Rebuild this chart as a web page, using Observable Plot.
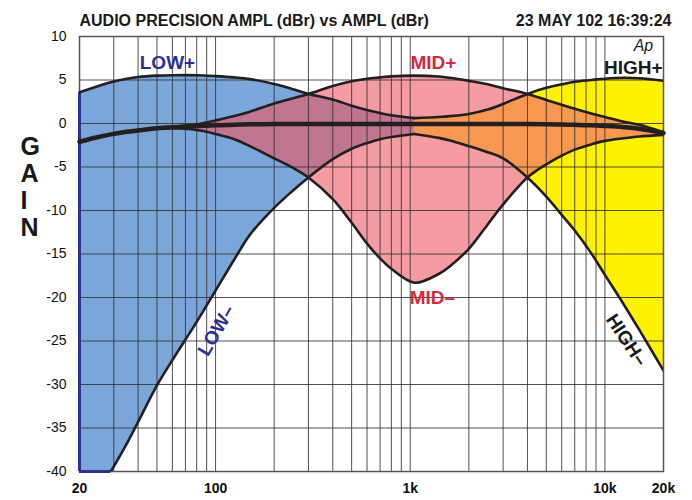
<!DOCTYPE html>
<html><head><meta charset="utf-8">
<script src="https://cdn.jsdelivr.net/npm/d3@7"></script>
<script src="https://cdn.jsdelivr.net/npm/@observablehq/plot@0.6"></script>
<style>body{margin:0;background:#fff}</style>
</head><body><div id="chart"></div>
<script>
// frequency (Hz) sample points shared by all curves
const freq = [20, 25, 29, 35, 40, 50, 60, 80, 100, 125, 150, 200, 250, 300, 400, 500, 600, 700, 800, 1050,
  1400, 1600, 2000, 2500, 3000, 4000, 5000, 6000, 7000, 8500, 10000, 12500, 15000, 20000];
// gain (dB) per curve
const flat = [-2.1, -1.55, -1.25, -0.95, -0.8, -0.55, -0.42, -0.3, -0.2, -0.15, -0.1, -0.07, -0.05, -0.05, -0.05, -0.05, -0.05, -0.05, -0.05, -0.05,
  -0.05, -0.05, -0.05, -0.05, -0.05, -0.07, -0.1, -0.12, -0.15, -0.2, -0.28, -0.42, -0.6, -1.1];
const midPlus = [-2.1, -1.55, -1.25, -0.95, -0.8, -0.55, -0.38, -0.1, 0.35, 0.85, 1.35, 2.3, 2.9, 3.4, 4.3, 4.85, 5.15, 5.3, 5.42, 5.5,
  5.4, 5.25, 4.9, 4.5, 4.05, 3.4, 2.7, 2.15, 1.7, 1.15, 0.75, 0.2, -0.15, -1.0];
const midMinus = [-2.1, -1.55, -1.25, -0.95, -0.8, -0.6, -0.55, -0.75, -1.2, -1.8, -2.6, -4.0, -5.1, -6.2, -8.7, -11.4, -13.8, -15.5, -16.7, -18.3,
  -17.3, -16.4, -14.4, -11.6, -9.3, -6.2, -4.7, -3.7, -3.0, -2.4, -2.0, -1.7, -1.5, -1.3];
const lowPlus = [3.6, 4.3, 4.75, 5.15, 5.35, 5.5, 5.55, 5.55, 5.45, 5.3, 5.1, 4.55, 3.95, 3.4, 2.75, 2.05, 1.55, 1.2, 0.95, 0.62,
  null, null, null, null, null, null, null, null, null, null, null, null, null, null];
const lowMinus = [-40, -40, -40, -36.8, -34.3, -30.1, -27.2, -22.8, -19.2, -15.6, -12.8, -9.7, -7.7, -6.2, -4.1, -2.9, -2.25, -1.8, -1.55, -1.2,
  null, null, null, null, null, null, null, null, null, null, null, null, null, null];
const highPlus = [null, null, null, null, null, null, null, null, null, null, null, null, null, null, null, null, null, null, null, 0.62,
  0.75, 0.85, 1.1, 1.6, 2.25, 3.4, 4.1, 4.5, 4.8, 5.0, 5.15, 5.25, 5.2, 4.9];
const highMinus = [null, null, null, null, null, null, null, null, null, null, null, null, null, null, null, null, null, null, null, -1.2,
  -1.65, -1.95, -2.6, -3.3, -4.0, -6.2, -8.4, -10.5, -12.3, -14.9, -17.4, -20.8, -23.7, -28.4];

const xTicks = [20, 100, 1000, 10000, 20000];
const xTickLabels = ["20", "100", "1k", "10k", "20k"];
const yTicks = [-40, -35, -30, -25, -20, -15, -10, -5, 0, 5, 10];
const gridFreq = [30, 40, 50, 60, 70, 80, 90, 100, 200, 300, 400, 500, 600, 700, 800, 900, 1000,
  2000, 3000, 4000, 5000, 6000, 7000, 8000, 9000, 10000];
const gainLetters = ["G", "A", "I", "N"];
const titleText = "AUDIO PRECISION AMPL (dBr) vs AMPL (dBr)";
const dateText = "23 MAY 102 16:39:24";

const rows = freq.map((f, i) => ({f, flat: flat[i], lp: lowPlus[i], lm: lowMinus[i], mp: midPlus[i], mm: midMinus[i], hp: highPlus[i], hm: highMinus[i]}));
const lowRows = rows.filter(d => d.lp != null);
const highRows = rows.filter(d => d.hp != null);
const overlap = (d, p, m) => { const b = Math.max(d[m], d.mm); const t = Math.min(d[p], d.mp); return {f: d.f, b, t: Math.max(t, b)}; };
const mauveRows = lowRows.map(d => overlap(d, "lp", "lm"));
const orangeRows = highRows.map(d => overlap(d, "hp", "hm"));
const xLabel = new Map(xTicks.map((t, i) => [t, xTickLabels[i]]));

const C = "catmull-rom";
const LINE = "#231f20";
const NAVY = "#2b3190";
const RED = "#d42a3a";
const NARROW = "'Liberation Sans Narrow', 'Liberation Sans', Arial, sans-serif";
const SANS = "'Liberation Sans', Arial, sans-serif";
const lw = {stroke: LINE, strokeWidth: 2.6, curve: C, clip: true};

const chart = Plot.plot({
  width: 692, height: 500,
  marginTop: 36, marginRight: 29, marginBottom: 29, marginLeft: 79,
  style: {background: "#fff", color: "#111", fontFamily: SANS},
  x: {type: "log", domain: [20, 20000], label: null},
  y: {domain: [-40, 10], label: null},
  marks: [
    Plot.areaY(lowRows, {x: "f", y1: "lm", y2: "lp", fill: "#7aa6d9", curve: C, clip: true}),
    Plot.areaY(rows, {x: "f", y1: "mm", y2: "mp", fill: "#f59ba2", curve: C, clip: true}),
    Plot.areaY(highRows, {x: "f", y1: "hm", y2: "hp", fill: "#fff200", curve: C, clip: true}),
    Plot.areaY(mauveRows, {x: "f", y1: "b", y2: "t", fill: "#c07590", curve: C, clip: true}),
    Plot.areaY(orangeRows, {x: "f", y1: "b", y2: "t", fill: "#f6984f", curve: C, clip: true}),
    Plot.ruleX(gridFreq, {stroke: "#333", strokeOpacity: 0.85, strokeWidth: 1}),
    Plot.ruleY(yTicks, {stroke: "#333", strokeOpacity: 0.85, strokeWidth: 1}),
    Plot.frame({stroke: "#555", strokeWidth: 1.5}),
    Plot.ruleX([20], {y1: -40, y2: lowPlus[0], stroke: NAVY, strokeWidth: 3}),
    Plot.ruleY([-40], {x1: 20, x2: 29, stroke: NAVY, strokeWidth: 3}),
    Plot.lineY(rows, {x: "f", y: "mp", ...lw}),
    Plot.lineY(rows, {x: "f", y: "mm", ...lw}),
    Plot.lineY(lowRows, {x: "f", y: "lp", ...lw}),
    Plot.lineY(lowRows.filter(d => d.f >= 29), {x: "f", y: "lm", ...lw}),
    Plot.lineY(highRows, {x: "f", y: "hp", ...lw}),
    Plot.lineY(highRows, {x: "f", y: "hm", ...lw}),
    Plot.lineY(rows, {x: "f", y: "flat", stroke: LINE, strokeWidth: 4.5, curve: C}),
    Plot.axisX(xTicks, {tickSize: 0, tickPadding: 12, fontSize: 14, fontWeight: "bold", fontFamily: NARROW, tickFormat: d => xLabel.get(d)}),
    Plot.axisY(yTicks, {tickSize: 0, tickPadding: 13, fontSize: 14, fontFamily: NARROW, tickFormat: d => String(d)}),
    Plot.text(["LOW+"], {x: 56.6, y: 6.93, fill: NAVY, fontSize: 19, fontWeight: "bold", fontFamily: NARROW}),
    Plot.text(["MID+"], {x: 1316, y: 6.95, fill: RED, fontSize: 19, fontWeight: "bold", fontFamily: NARROW}),
    Plot.text(["MID\u2013"], {x: 1300, y: -20.05, fill: RED, fontSize: 19, fontWeight: "bold", fontFamily: NARROW}),
    Plot.text(["HIGH+"], {x: 14000, y: 6.4, fill: "#1a1a1a", fontSize: 19, fontWeight: "bold", fontFamily: NARROW}),
    Plot.text(["Ap"], {x: 15770, y: 8.95, fill: "#222", fontSize: 16, fontStyle: "italic", fontFamily: SANS}),
    Plot.text(["LOW\u2013"], {x: 101, y: -23.8, rotate: -60, fill: NAVY, fontSize: 19, fontWeight: "bold", fontFamily: NARROW}),
    Plot.text(["HIGH\u2013"], {x: 12900, y: -24.9, rotate: 56, fill: "#1a1a1a", fontSize: 19, fontWeight: "bold", fontFamily: NARROW}),
    Plot.text(gainLetters, {frameAnchor: "left", dx: -59, y: (d, i) => -2.75 - 3.08 * i, fontSize: 25, fontWeight: "bold", fill: "#1a1a1a", fontFamily: SANS}),
    Plot.text([titleText], {frameAnchor: "top-left", dy: -22, textAnchor: "start", fontSize: 16, fontWeight: "bold", fill: "#1a1a1a", fontFamily: NARROW}),
    Plot.text([dateText], {frameAnchor: "top-right", dx: 8, dy: -22, textAnchor: "end", fontSize: 16, fontWeight: "bold", fill: "#1a1a1a", fontFamily: NARROW})
  ]
});
document.getElementById("chart").append(chart);
</script>
</body></html>
